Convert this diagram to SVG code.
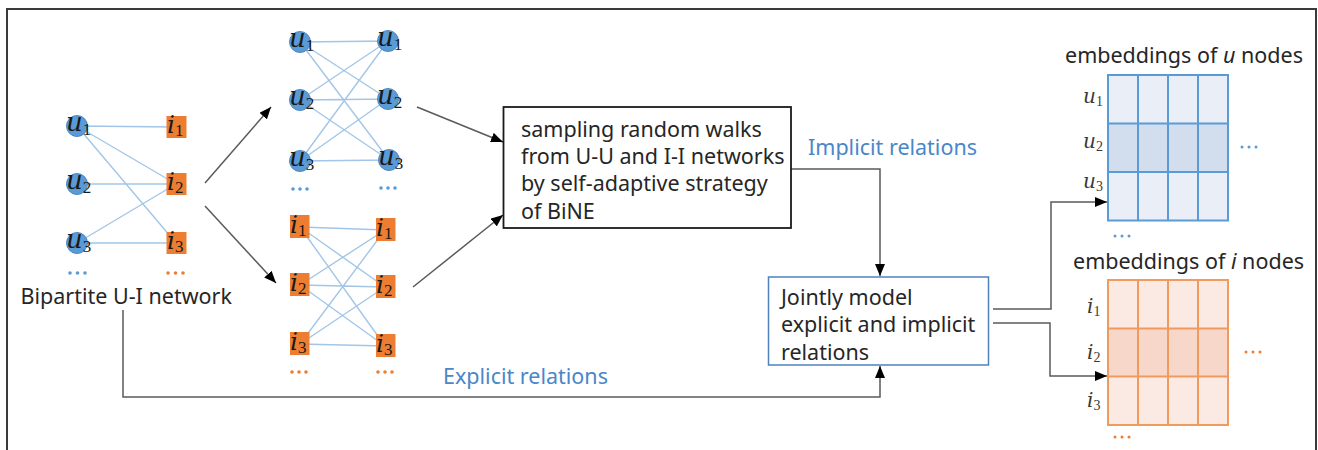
<svg xmlns="http://www.w3.org/2000/svg" width="1318" height="450" viewBox="0 0 1318 450">
<style>
.t{font-family:"Noto Sans","Open Sans",sans-serif;font-size:21.5px;fill:#262626}
.blue{fill:#4A86C8}
.m{font-family:"DejaVu Serif",serif;font-style:italic;font-size:26px;fill:#1a1a1a}
.mi{font-family:"DejaVu Serif",serif;font-style:italic;font-size:25px;fill:#1a1a1a}
.sub{font-family:"Liberation Serif",serif;font-style:normal;font-size:17px}
.ml{font-family:"DejaVu Serif",serif;font-style:italic;font-size:20px;fill:#3a3a3a}
.msub{font-family:"Liberation Serif",serif;font-style:normal;font-size:14px}
.un{fill:#5B9BD5;stroke:#4A88C7;stroke-width:1}
.in{fill:#ED7D31}
.e{stroke:#A3C6E8;stroke-width:1.4;fill:none}
.c{stroke:#5A5A5A;stroke-width:1.5;fill:none}
.db{fill:#5B9BD5}
.do{fill:#ED7D31}
</style>
<defs>
<marker id="ah" markerUnits="userSpaceOnUse" markerWidth="12" markerHeight="10" viewBox="0 0 12 10" refX="12" refY="5" orient="auto">
<path d="M0,0 L12,5 L0,10 Z" fill="#000"/>
</marker>
</defs>
<rect x="7" y="9" width="1309" height="470" fill="#fff" stroke="#3a3a3a" stroke-width="2"/>

<g id="graph-edges">
<path class="e" d="M77,126 L176,127 M77,126 L176,184 M77,126 L176,243 M77,184 L176,184 M77,243 L176,184 M77,243 L176,243"/>
<path class="e" d="M300,42 L388,41 M300,42 L388,99 M300,42 L389,160 M300,100 L388,41 M300,100 L388,99 M300,100 L389,160 M300,161 L388,41 M300,161 L388,99 M300,161 L389,160"/>
<path class="e" d="M300,227 L385,230 M300,227 L385,287 M300,227 L385,346 M300,285 L385,230 M300,285 L385,287 M300,285 L385,346 M300,344 L385,230 M300,344 L385,287 M300,344 L385,346"/>
</g>

<g id="connectors">
<path class="c" d="M205,183 L271,107" marker-end="url(#ah)"/>
<path class="c" d="M205,206 L276,283" marker-end="url(#ah)"/>
<path class="c" d="M417,107 L503,142" marker-end="url(#ah)"/>
<path class="c" d="M413,287 L503,215" marker-end="url(#ah)"/>
<path class="c" d="M791,169 H880 V276" marker-end="url(#ah)"/>
<path class="c" d="M123,310 V397 H880 V366" marker-end="url(#ah)"/>
<path class="c" d="M993,309 H1051 V202 H1107" marker-end="url(#ah)"/>
<path class="c" d="M993,323 H1050 V376 H1107" marker-end="url(#ah)"/>
</g>

<!-- Left bipartite network -->
<g id="left-u1"><circle class="un" cx="77" cy="126" r="10.5"/><text class="m" x="66" y="131">u<tspan class="sub" dy="4">1</tspan></text></g>
<g id="left-u2"><circle class="un" cx="77" cy="184" r="10.5"/><text class="m" x="66" y="189">u<tspan class="sub" dy="4">2</tspan></text></g>
<g id="left-u3"><circle class="un" cx="77" cy="243" r="10.5"/><text class="m" x="66" y="248">u<tspan class="sub" dy="4">3</tspan></text></g>
<g id="left-i1"><rect class="in" x="166.5" y="116" width="20" height="22"/><text class="mi" x="167" y="133">i<tspan class="sub" dy="3">1</tspan></text></g>
<g id="left-i2"><rect class="in" x="166.5" y="173" width="20" height="22"/><text class="mi" x="167" y="190">i<tspan class="sub" dy="3">2</tspan></text></g>
<g id="left-i3"><rect class="in" x="166.5" y="232" width="20" height="22"/><text class="mi" x="167" y="249">i<tspan class="sub" dy="3">3</tspan></text></g>
<g id="left-dots"><circle class="db" cx="70" cy="273" r="1.8"/><circle class="db" cx="77.5" cy="273" r="1.8"/><circle class="db" cx="85" cy="273" r="1.8"/><circle class="do" cx="168" cy="273" r="1.8"/><circle class="do" cx="175.5" cy="273" r="1.8"/><circle class="do" cx="183" cy="273" r="1.8"/></g>
<g id="label-bipartite"><text class="t" x="20.5" y="304">Bipartite U-I network</text></g>

<!-- U-U network -->
<g id="uu-l1"><circle class="un" cx="300" cy="42" r="10.5"/><text class="m" x="289" y="47">u<tspan class="sub" dy="4">1</tspan></text></g>
<g id="uu-l2"><circle class="un" cx="300" cy="100" r="10.5"/><text class="m" x="289" y="105">u<tspan class="sub" dy="4">2</tspan></text></g>
<g id="uu-l3"><circle class="un" cx="300" cy="161" r="10.5"/><text class="m" x="289" y="166">u<tspan class="sub" dy="4">3</tspan></text></g>
<g id="uu-r1"><circle class="un" cx="388" cy="41" r="10.5"/><text class="m" x="377" y="46">u<tspan class="sub" dy="4">1</tspan></text></g>
<g id="uu-r2"><circle class="un" cx="388" cy="99" r="10.5"/><text class="m" x="377" y="104">u<tspan class="sub" dy="4">2</tspan></text></g>
<g id="uu-r3"><circle class="un" cx="389" cy="160" r="10.5"/><text class="m" x="378" y="165">u<tspan class="sub" dy="4">3</tspan></text></g>
<g id="uu-dots"><circle class="db" cx="293" cy="189" r="1.8"/><circle class="db" cx="300" cy="189" r="1.8"/><circle class="db" cx="307" cy="189" r="1.8"/><circle class="db" cx="381" cy="188" r="1.8"/><circle class="db" cx="388" cy="188" r="1.8"/><circle class="db" cx="395" cy="188" r="1.8"/></g>

<!-- I-I network -->
<g id="ii-l1"><rect class="in" x="290" y="215" width="19.5" height="23"/><text class="mi" x="290" y="233">i<tspan class="sub" dy="3">1</tspan></text></g>
<g id="ii-l2"><rect class="in" x="290" y="273" width="19.5" height="23"/><text class="mi" x="290" y="291">i<tspan class="sub" dy="3">2</tspan></text></g>
<g id="ii-l3"><rect class="in" x="290" y="332" width="19.5" height="23"/><text class="mi" x="290" y="350">i<tspan class="sub" dy="3">3</tspan></text></g>
<g id="ii-r1"><rect class="in" x="376" y="218" width="19.5" height="23"/><text class="mi" x="376" y="236">i<tspan class="sub" dy="3">1</tspan></text></g>
<g id="ii-r2"><rect class="in" x="376" y="275" width="19.5" height="23"/><text class="mi" x="376" y="293">i<tspan class="sub" dy="3">2</tspan></text></g>
<g id="ii-r3"><rect class="in" x="376" y="334" width="19.5" height="23"/><text class="mi" x="376" y="352">i<tspan class="sub" dy="3">3</tspan></text></g>
<g id="ii-dots"><circle class="do" cx="292" cy="372" r="1.8"/><circle class="do" cx="299" cy="372" r="1.8"/><circle class="do" cx="306" cy="372" r="1.8"/><circle class="do" cx="378" cy="372" r="1.8"/><circle class="do" cx="385" cy="372" r="1.8"/><circle class="do" cx="392" cy="372" r="1.8"/></g>

<!-- Sampling box -->
<g id="box-sampling">
<rect x="503.5" y="107" width="287.5" height="121" fill="#fff" stroke="#1a1a1a" stroke-width="1.8"/>
<text class="t" x="521" y="137">sampling random walks</text>
<text class="t" x="521" y="164">from U-U and I-I networks</text>
<text class="t" x="521" y="191">by self-adaptive strategy</text>
<text class="t" x="521" y="219">of BiNE</text>
</g>
<g id="label-implicit"><text class="t blue" x="808" y="155">Implicit relations</text></g>
<g id="label-explicit"><text class="t blue" x="443" y="384">Explicit relations</text></g>

<!-- Joint model box -->
<g id="box-joint">
<rect x="768.5" y="277" width="220" height="88" fill="#fff" stroke="#4F81BD" stroke-width="1.5"/>
<text class="t" x="781" y="305">Jointly model</text>
<text class="t" x="781" y="332">explicit and implicit</text>
<text class="t" x="781" y="360">relations</text>
</g>

<!-- U embeddings -->
<g id="matrix-u">
<text class="t" x="1065" y="63">embeddings of <tspan font-style="italic">u</tspan> nodes</text>
<rect x="1108" y="75" width="120" height="48.5" fill="#E9EEF7"/>
<rect x="1108" y="123.5" width="120" height="48.5" fill="#D2DDEE"/>
<rect x="1108" y="172" width="120" height="48.5" fill="#E9EEF7"/>
<path d="M1108,75 H1228 V220.5 H1108 Z M1138,75 V220.5 M1168,75 V220.5 M1198,75 V220.5 M1108,123.5 H1228 M1108,172 H1228" fill="none" stroke="#5B9BD5" stroke-width="2"/>
<text class="ml" x="1083" y="103">u<tspan class="msub" dy="3">1</tspan></text>
<text class="ml" x="1083" y="148">u<tspan class="msub" dy="3">2</tspan></text>
<text class="ml" x="1083" y="188">u<tspan class="msub" dy="3">3</tspan></text>
<circle class="db" cx="1242" cy="147" r="1.5"/><circle class="db" cx="1249" cy="147" r="1.5"/><circle class="db" cx="1256" cy="147" r="1.5"/>
<circle class="db" cx="1115" cy="236" r="1.5"/><circle class="db" cx="1122" cy="236" r="1.5"/><circle class="db" cx="1129" cy="236" r="1.5"/>
</g>

<!-- I embeddings -->
<g id="matrix-i">
<text class="t" x="1073" y="269">embeddings of <tspan font-style="italic">i</tspan> nodes</text>
<rect x="1108" y="280" width="120" height="48.5" fill="#FBEAE4"/>
<rect x="1108" y="328.5" width="120" height="48" fill="#F8D7CB"/>
<rect x="1108" y="376.5" width="120" height="48.5" fill="#FBEAE4"/>
<path d="M1108,280 H1228 V425 H1108 Z M1138,280 V425 M1168,280 V425 M1198,280 V425 M1108,328.5 H1228 M1108,376.5 H1228" fill="none" stroke="#F19A5E" stroke-width="2"/>
<text class="ml" x="1087" y="313">i<tspan class="msub" dy="3">1</tspan></text>
<text class="ml" x="1087" y="359">i<tspan class="msub" dy="3">2</tspan></text>
<text class="ml" x="1087" y="407">i<tspan class="msub" dy="3">3</tspan></text>
<circle class="do" cx="1246" cy="352" r="1.5"/><circle class="do" cx="1253" cy="352" r="1.5"/><circle class="do" cx="1260" cy="352" r="1.5"/>
<circle class="do" cx="1115" cy="437" r="1.5"/><circle class="do" cx="1122" cy="437" r="1.5"/><circle class="do" cx="1129" cy="437" r="1.5"/>
</g>
</svg>
